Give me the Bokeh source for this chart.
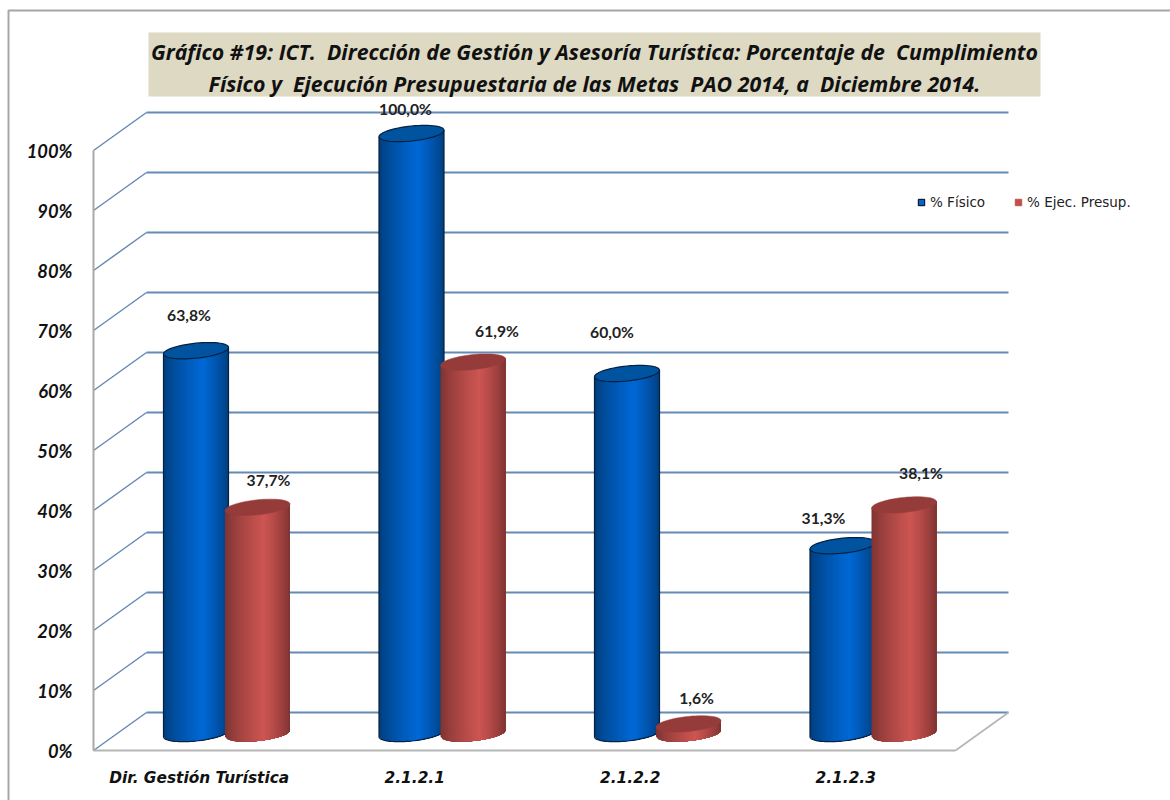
import math
from bokeh.plotting import figure
from bokeh.embed import file_html
from bokeh.resources import INLINE
from bokeh.core.properties import value
from bokeh.models import (FixedTicker, Label, Legend, LegendItem, Range1d, BoxAnnotation)

# ---- data ----
categories = ["Dir. Gestión Turística", "2.1.2.1", "2.1.2.2", "2.1.2.3"]
fisico = [63.8, 100.0, 60.0, 31.3]
presup = [37.7, 61.9, 1.6, 38.1]
fisico_labels = ["63,8%", "100,0%", "60,0%", "31,3%"]
presup_labels = ["37,7%", "61,9%", "1,6%", "38,1%"]
y_ticks = list(range(0, 101, 10))
title_lines = [
    "Gráfico #19: ICT.\u00a0 Dirección de Gestión y Asesoría Turística: Porcentaje de\u00a0 Cumplimiento",
    "Físico y\u00a0 Ejecución Presupuestaria de las Metas\u00a0 PAO 2014, a\u00a0 Diciembre 2014.",
]

# ---- layout (pixels of the picture) ----
W, H = 1170, 800
PAGE_X0, PAGE_Y0 = 0, 0
X_ORIGIN_PX, Y_ORIGIN_PX = 93, 750     # front-left corner of the 3D floor
PX_PER_CAT, PX_PER_PCT = 215.5, 6.0
px = 1 / PX_PER_CAT                    # one pixel in x data units
py = 1 / PX_PER_PCT                    # one pixel in y data units
DEPTH_X, DEPTH_Y = 53 * px, 38 * py    # back wall offset
CYL_DX, CYL_DY = 25.5 * px, 17 * py    # cylinders stand mid depth
BAR_OFF = 30.75 * px
A, B, TILT = 32.5 * px, 7.5 * py, 3.25 * py
SLICES = 36

x_range = Range1d((PAGE_X0 - X_ORIGIN_PX) * px, (PAGE_X0 + W - X_ORIGIN_PX) * px)
y_range = Range1d((Y_ORIGIN_PX - PAGE_Y0 - H) * py, (Y_ORIGIN_PX - PAGE_Y0) * py)

p = figure(width=W, height=H, x_range=x_range, y_range=y_range,
           output_backend="svg", toolbar_location=None, min_border=0,
           background_fill_color="white", border_fill_color="white")
p.outline_line_color = None
p.grid.visible = False
n = len(categories)

# ---- axes ----
ax = p.yaxis[0]
ax.fixed_location = 0
ax.bounds = (0, 100)
ax.ticker = FixedTicker(ticks=y_ticks)
ax.major_label_overrides = {v: f"{v}%" for v in y_ticks}
ax.major_label_text_font = "Lato"
ax.major_label_text_font_style = "bold italic"
ax.major_label_text_font_size = "18.3px"
ax.major_label_text_color = "#111111"
ax.major_label_standoff = 15
ax.major_tick_line_color = None
ax.minor_tick_line_color = None
ax.axis_line_color = "#a9a9a9"
ax.axis_line_width = 2

x_tick_pos = [i + 0.5 - 2 * px for i in range(n)]
xa = p.xaxis[0]
xa.fixed_location = 0
xa.bounds = (0, n)
xa.ticker = FixedTicker(ticks=x_tick_pos)
xa.major_label_overrides = dict(zip(x_tick_pos, categories))
xa.major_label_text_font = "DejaVu Sans"
xa.major_label_text_font_style = "bold italic"
xa.major_label_text_font_size = "15.4px"
xa.major_label_text_color = "#111111"
xa.major_label_standoff = 12
xa.major_tick_line_color = None
xa.minor_tick_line_color = None
xa.axis_line_color = "#b5b5b5"
xa.axis_line_width = 2

# ---- 3D walls ----
GRID = "#658ab5"
y_back = [v + DEPTH_Y for v in y_ticks]
p.segment([DEPTH_X] * len(y_ticks), y_back, [n + DEPTH_X] * len(y_ticks), y_back,
          line_color=GRID, line_width=2)
p.segment([0] * len(y_ticks), y_ticks, [DEPTH_X] * len(y_ticks), y_back,
          line_color=GRID, line_width=1.5)
p.segment([n], [0], [n + DEPTH_X], [DEPTH_Y], line_color="#b5b5b5", line_width=1.6)


def mix(c1, c2, f):
    return "#%02x%02x%02x" % tuple(round(a + (b - a) * f) for a, b in zip(c1, c2))


def shade(t, edge, mid):
    # light sits slightly to the right of centre
    peak = 0.2
    f = (t + 1) / (peak + 1) if t < peak else (1 - t) / (1 - peak)
    return mix(edge, mid, min(1, f ** 0.75))


def cylinder(cx, val, edge, mid, cap, outline):
    cy_top = val + CYL_DY
    cy_base = CYL_DY
    xs, ys, cols = [], [], []
    # painter's order: every slice reaches the right edge, the next one paints over it
    for i in range(SLICES):
        t0 = -1 + 2 * i / SLICES
        t1 = t0 + 2 / SLICES
        ts = [t0 + (1 - t0) * k / 24 for k in range(25)]
        sx = [cx + A * t0, cx + A]
        sy = [cy_top + TILT * t0, cy_top + TILT]
        for t in reversed(ts):
            sx.append(cx + A * t)
            sy.append(cy_base + TILT * t - B * math.sqrt(max(0, 1 - t * t)))
        xs.append(sx)
        ys.append(sy)
        cols.append(shade((t0 + t1) / 2, edge, mid))
    p.patches(xs, ys, fill_color=cols, line_color=None)
    th = [2 * math.pi * k / 60 for k in range(61)]
    ex = [cx + A * math.cos(a) for a in th]
    ey = [cy_top + TILT * math.cos(a) + B * math.sin(a) for a in th]
    if outline:
        lo = [math.pi + math.pi * k / 40 for k in range(41)]
        ox = [cx - A] + [cx + A * math.cos(a) for a in lo] + [cx + A]
        oy = [cy_top - TILT] + [cy_base + TILT * math.cos(a) + B * math.sin(a) for a in lo] + [cy_top + TILT]
        p.line(ox, oy, line_color=outline, line_width=1.2)
    p.patch(ex, ey, fill_color=cap, line_color=outline or cap, line_width=1.2 if outline else 0.5)


BLUE = ((0, 60, 120), (0, 104, 214), "#00549f", "#06203f")
RED = ((122, 50, 48), (205, 85, 82), "#953c3b", None)
for i in range(n):
    cx = i + 0.5 + CYL_DX
    cylinder(cx - BAR_OFF, fisico[i], *BLUE)
    cylinder(cx + BAR_OFF, presup[i], *RED)

# ---- data labels (hand-placed in the original) ----
fis_dx, fis_dy = [-7, -6, -15, -19], [36, 25, 42, 28]
pre_dx, pre_dy = [11, 24, 8, 17], [27, 31, 26, 32]
lx, ly, lt = [], [], []
for i in range(n):
    cx = i + 0.5 + CYL_DX
    lx.append(cx - BAR_OFF + fis_dx[i] * px)
    ly.append(fisico[i] + CYL_DY + fis_dy[i] * py)
    lt.append(fisico_labels[i])
    lx.append(cx + BAR_OFF + pre_dx[i] * px)
    ly.append(presup[i] + CYL_DY + pre_dy[i] * py)
    lt.append(presup_labels[i])
p.text(lx, ly, text=lt, text_align="center", text_baseline="middle",
       text_font=value("Lato"), text_font_style="bold", text_font_size="15.7px",
       text_color="#222222")

# ---- title box ----
p.add_layout(BoxAnnotation(left=148 - PAGE_X0, right=1040 - PAGE_X0,
                           top=H - (32 - PAGE_Y0), bottom=H - (96 - PAGE_Y0),
                           left_units="screen", right_units="screen",
                           top_units="screen", bottom_units="screen",
                           fill_color="#ddd9c3", fill_alpha=1, line_color=None,
                           level="underlay"))
for txt, yc in zip(title_lines, (51, 83)):
    p.add_layout(Label(x=594 - PAGE_X0, y=H - (yc - PAGE_Y0), x_units="screen", y_units="screen",
                       text=txt, text_align="center", text_baseline="middle",
                       text_font="Open Sans", text_font_style="bold italic",
                       text_font_size="21.3px", text_color="#111111"))

# ---- outer frame of the chart ----
fx0, fy0 = x_range.start + 8 * px, y_range.end - 10 * py
p.line([x_range.end, fx0, fx0], [fy0, fy0, y_range.start],
       line_color="#a6a6a6", line_width=2)

# ---- legend ----
s1 = p.scatter([float("nan")], [float("nan")], marker="square", size=10,
               fill_color="#0066cc", line_color="#000000", line_width=1)
s2 = p.scatter([float("nan")], [float("nan")], marker="square", size=10,
               fill_color="#c0504d", line_color="#c0504d", line_width=1)
legend = Legend(items=[LegendItem(label="% Físico", renderers=[s1]),
                       LegendItem(label="% Ejec. Presup.", renderers=[s2])],
                orientation="horizontal", location=(913 - PAGE_X0, H - (210 - PAGE_Y0)),
                glyph_width=16, glyph_height=16, label_standoff=1, spacing=25, padding=0, margin=0,
                background_fill_alpha=0, border_line_color=None,
                label_text_font="DejaVu Sans", label_text_font_size="13.5px",
                label_text_color="#222222")
p.add_layout(legend)

open("out.html", "w").write(file_html(p, INLINE))
